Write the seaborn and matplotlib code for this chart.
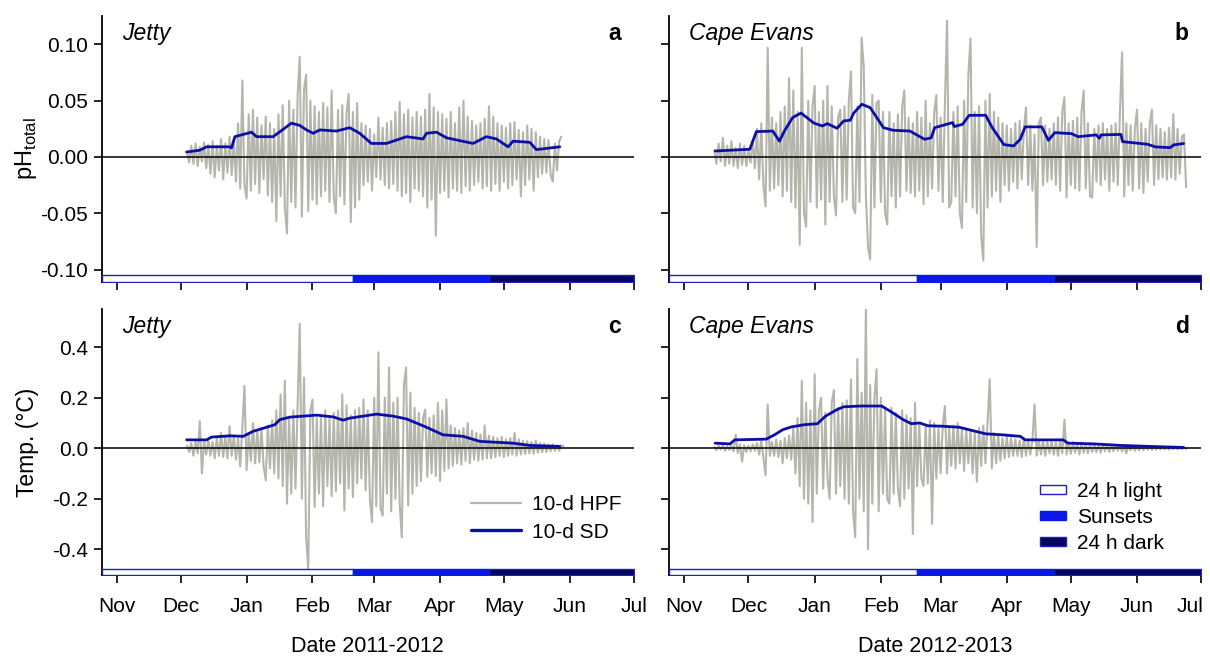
import pandas as pd
import matplotlib
matplotlib.use('Agg')
import matplotlib.pyplot as plt
import matplotlib.dates as mdates
from matplotlib.lines import Line2D
from matplotlib.patches import Patch
from matplotlib.transforms import ScaledTranslation
import seaborn as sns

# ---- season origins (day offsets below are counted from these) ----
origin_1112 = pd.Timestamp('2011-11-01')
origin_1213 = pd.Timestamp('2012-11-01')

# ---- pH, Jetty (panel a): 10-d high-pass filtered, one value per day from Dec 4 2011 ----
ph_jetty_start = '2011-12-04'
ph_jetty_hpf = [
    0.004, -0.005, 0.010, -0.006, 0.012, -0.008, 0.009, -0.004, 0.013, -0.010,
    0.011, -0.015, 0.014, -0.018, 0.010, -0.012, 0.016, -0.020, 0.012, -0.014,
    0.018, -0.016, 0.015, -0.022, 0.030, -0.028, 0.068, -0.025, -0.037, 0.038,
    -0.030, 0.042, -0.024, 0.035, -0.032, 0.028, -0.020, 0.036, -0.034, 0.030,
    -0.040, 0.025, -0.057, 0.038, -0.035, 0.046, -0.045, -0.068, 0.050, -0.040,
    0.042, -0.045, 0.055, 0.089, -0.053, 0.060, 0.073, -0.048, 0.050, -0.038,
    0.045, -0.042, 0.040, -0.035, 0.048, -0.030, 0.044, -0.040, 0.059, -0.036,
    -0.050, 0.042, -0.035, 0.046, -0.042, 0.038, 0.056, -0.058, 0.040, -0.045,
    0.048, -0.038, 0.030, -0.025, 0.028, -0.022, 0.025, -0.030, 0.020, -0.018,
    0.035, -0.020, 0.026, -0.025, 0.030, -0.028, 0.032, -0.024, 0.040, -0.030,
    0.049, -0.035, 0.038, -0.032, 0.042, -0.040, 0.035, -0.028, 0.040, -0.030,
    0.036, -0.035, 0.042, -0.045, 0.056, -0.038, 0.044, -0.070, 0.040, -0.032,
    0.038, -0.030, 0.034, -0.036, 0.040, -0.028, 0.030, -0.030, 0.044, -0.032,
    0.050, -0.026, 0.036, -0.030, 0.032, -0.025, 0.028, -0.022, 0.030, -0.028,
    0.034, -0.026, 0.045, -0.030, 0.036, -0.024, 0.030, -0.030, 0.028, -0.022,
    0.026, -0.028, 0.030, -0.025, 0.031, -0.020, 0.024, -0.035, 0.022, -0.025,
    0.028, -0.020, 0.025, -0.030, 0.022, -0.018, 0.018, -0.015, 0.016, -0.014,
    0.015, -0.016, -0.022, 0.012, -0.012, 0.014, 0.018,
]
ph_jetty_sd_day = [32.8, 39, 42.2, 53.1, 53.9, 55.5, 63.3, 65.7, 73.5, 82.1, 86, 89.2,
                   92.3, 95.4, 103.3, 109.5, 114.2, 119.7, 126.8, 136.2, 144, 145.6,
                   150.3, 155, 167.5, 173.8, 178.5, 184, 186.3, 194.2, 197.3, 208.3]
ph_jetty_sd = [0.0044, 0.006, 0.009, 0.009, 0.008, 0.018, 0.022, 0.018, 0.018, 0.030, 0.028, 0.024,
               0.021, 0.024, 0.023, 0.026, 0.021, 0.012, 0.012, 0.018, 0.016, 0.021,
               0.022, 0.017, 0.012, 0.018, 0.016, 0.009, 0.014, 0.013, 0.0065, 0.009]

# ---- pH, Cape Evans (panel b): one value per day from Nov 15 2012 ----
ph_cape_start = '2012-11-15'
ph_cape_hpf = [
    0.006, -0.006, 0.012, -0.004, 0.017, -0.008, 0.010, -0.006, 0.014, -0.008,
    0.008, -0.010, 0.012, -0.007, 0.010, -0.008, 0.006, -0.005, 0.015, -0.010,
    0.025, -0.020, 0.030, -0.025, -0.044, 0.097, -0.030, 0.035, -0.028, 0.030,
    -0.025, 0.040, -0.035, 0.045, -0.030, 0.070, -0.040, 0.059, -0.045, 0.040,
    -0.078, 0.097, -0.050, -0.062, 0.050, -0.040, 0.045, 0.063, -0.045, 0.040,
    -0.038, 0.050, -0.060, 0.063, -0.040, 0.045, -0.035, -0.052, 0.035, 0.042,
    -0.040, 0.045, -0.038, 0.050, 0.076, -0.045, -0.050, 0.045, -0.040, 0.106,
    0.080, -0.035, -0.080, -0.091, 0.055, -0.045, 0.048, 0.050, -0.040, 0.040,
    -0.050, -0.060, 0.040, -0.035, 0.030, -0.045, 0.038, -0.035, 0.045, 0.059,
    -0.030, 0.035, -0.032, 0.030, -0.035, 0.040, -0.030, 0.035, -0.042, 0.050,
    -0.035, 0.030, -0.028, 0.040, 0.055, -0.030, 0.035, -0.040, 0.045, 0.121,
    -0.045, -0.040, 0.040, -0.035, 0.045, -0.050, -0.063, 0.050, -0.040, 0.073,
    0.105, -0.045, 0.040, -0.050, 0.045, -0.070, -0.092, 0.050, -0.045, 0.056,
    -0.035, 0.040, -0.030, 0.035, -0.040, 0.030, -0.025, 0.028, -0.030, 0.025,
    -0.022, 0.030, -0.028, 0.032, -0.020, 0.025, 0.044, -0.025, 0.028, -0.030,
    0.020, -0.080, 0.030, 0.035, -0.025, 0.028, -0.022, 0.025, -0.020, 0.030,
    -0.025, 0.035, -0.030, 0.040, 0.053, -0.036, 0.030, -0.025, 0.032, -0.028,
    0.035, -0.030, 0.040, 0.059, -0.028, 0.030, -0.035, -0.036, 0.025, -0.022,
    0.028, -0.025, 0.030, -0.020, 0.025, -0.030, 0.028, -0.022, 0.030, -0.025,
    0.040, 0.093, -0.035, 0.030, -0.025, 0.028, -0.030, 0.025, 0.042, -0.028,
    0.030, -0.032, 0.025, -0.022, 0.030, 0.042, -0.025, 0.028, -0.020, 0.025,
    -0.018, 0.022, -0.020, 0.026, -0.018, 0.038, -0.020, 0.025, -0.015, 0.018,
    0.020, -0.027,
]
ph_cape_sd_day = [14.4, 30.6, 33.7, 41.4, 44.5, 46.8, 50.7, 54.6, 60.7, 64.6, 66.9, 71.5,
                  74.6, 77.7, 79.3, 83.1, 87, 90.1, 93.2, 97.8, 105.6, 112.5, 115.6, 117.2,
                  125.6, 126.4, 130.3, 133.4, 141.1, 144.2, 149.6, 154.2, 157.3, 159.6,
                  167.4, 170.5, 173.5, 181.3, 184.4, 192.9, 194.4, 195.2, 204.5, 205.2,
                  216.8, 220.7, 227.6, 229.2, 233.8]
ph_cape_sd = [0.0053, 0.0068, 0.0225, 0.023, 0.014, 0.023, 0.035, 0.039, 0.030, 0.0275, 0.0296, 0.0255,
              0.032, 0.0326, 0.039, 0.0468, 0.0438, 0.035, 0.026, 0.0237, 0.023, 0.0157, 0.017, 0.026,
              0.0305, 0.027, 0.029, 0.037, 0.037, 0.026, 0.011, 0.0098, 0.0157, 0.0267,
              0.0267, 0.0148, 0.0216, 0.0207, 0.018, 0.0196, 0.0166, 0.0196, 0.020, 0.0136,
              0.0113, 0.0089, 0.0083, 0.0107, 0.0119]

# ---- Temperature, Jetty (panel c): one value per day from Dec 4 2011 ----
t_jetty_start = '2011-12-04'
t_jetty_hpf = [
    0.010, -0.015, 0.020, -0.030, 0.025, -0.020, 0.107, -0.100, 0.030, -0.025,
    0.035, -0.030, 0.025, -0.040, 0.040, -0.030, 0.060, -0.035, 0.045, -0.040,
    0.087, -0.030, 0.050, -0.045, 0.040, -0.073, 0.080, 0.247, -0.087, 0.060,
    -0.050, 0.100, -0.060, 0.070, -0.055, 0.080, -0.070, -0.127, 0.090, -0.080,
    0.110, -0.100, 0.150, -0.120, 0.213, -0.150, 0.267, -0.220, 0.120, -0.180,
    0.150, -0.160, 0.167, 0.493, -0.200, 0.280, -0.353, -0.480, 0.150, 0.193,
    -0.233, 0.120, -0.180, 0.130, -0.230, 0.150, -0.150, 0.120, -0.190, 0.140,
    -0.170, 0.150, -0.140, 0.213, -0.247, 0.170, -0.160, 0.130, -0.193, 0.150,
    -0.140, 0.160, -0.120, 0.193, -0.167, 0.150, -0.200, -0.293, 0.200, -0.230,
    0.380, -0.240, -0.267, 0.200, -0.180, 0.320, -0.250, 0.180, -0.200, 0.200,
    -0.220, -0.353, 0.250, 0.320, -0.227, 0.220, -0.180, 0.160, -0.150, 0.140,
    -0.130, 0.120, 0.153, -0.113, 0.120, -0.100, 0.130, -0.110, 0.180, -0.130,
    0.150, -0.090, 0.193, -0.080, 0.090, -0.070, 0.080, -0.060, 0.070, -0.065,
    0.080, -0.050, 0.100, -0.060, 0.070, -0.045, 0.060, -0.050, 0.055, -0.045,
    0.090, -0.040, 0.050, -0.040, 0.045, -0.035, 0.040, -0.030, 0.045, -0.035,
    0.035, -0.030, 0.040, -0.025, 0.060, -0.030, 0.035, -0.025, 0.030, -0.022,
    0.028, -0.020, 0.025, -0.022, 0.030, -0.018, 0.020, -0.015, 0.018, -0.015,
    0.015, -0.012, 0.016, -0.010, 0.012, -0.010, 0.012, 0.008,
]
t_jetty_sd_day = [32.8, 42.2, 44.5, 53.1, 59.4, 64.1, 70.4, 74.3, 76.6, 81.3, 93.9, 101.7,
                  106.4, 109.5, 115.8, 122.1, 129.9, 136.2, 145.6, 153.4, 162.8, 170.7,
                  186.3, 194.2, 208.3]
t_jetty_sd = [0.033, 0.033, 0.044, 0.049, 0.047, 0.067, 0.083, 0.093, 0.113, 0.123, 0.131, 0.124,
              0.111, 0.119, 0.127, 0.135, 0.127, 0.116, 0.083, 0.053, 0.047, 0.027,
              0.020, 0.011, 0.007]

# ---- Temperature, Cape Evans (panel d): one value per day from Nov 15 2012 ----
t_cape_start = '2012-11-15'
t_cape_hpf = [
    0.005, -0.008, 0.010, -0.005, 0.012, -0.010, 0.008, -0.006, 0.010, -0.012,
    0.053, -0.020, 0.015, -0.053, 0.012, -0.015, 0.010, -0.012, 0.015, -0.010,
    0.020, -0.025, 0.030, -0.040, -0.107, 0.173, -0.030, 0.025, -0.030, 0.035,
    -0.035, 0.030, -0.060, 0.040, -0.040, 0.050, -0.045, 0.080, -0.100, 0.120,
    -0.150, 0.267, -0.200, 0.180, -0.220, 0.150, -0.293, 0.293, -0.180, 0.150,
    0.200, -0.160, 0.140, -0.120, -0.200, 0.180, 0.230, -0.180, 0.160, -0.150,
    0.180, -0.200, 0.190, -0.220, 0.273, -0.250, -0.353, 0.353, -0.200, 0.220,
    -0.250, 0.560, -0.400, 0.250, -0.220, 0.200, 0.313, -0.250, 0.200, -0.180,
    0.150, -0.200, -0.220, 0.160, -0.180, 0.140, -0.160, -0.230, 0.150, -0.200,
    0.130, -0.160, 0.120, -0.340, 0.180, -0.150, 0.100, -0.120, -0.150, 0.090,
    -0.140, 0.110, -0.300, 0.100, -0.120, 0.080, -0.100, 0.090, 0.167, -0.100,
    0.080, -0.070, 0.090, -0.080, 0.100, -0.060, 0.080, -0.090, 0.070, -0.060,
    0.070, -0.100, 0.060, -0.133, 0.080, -0.070, 0.090, -0.060, 0.100, 0.273,
    -0.080, 0.060, -0.060, 0.050, -0.050, 0.040, -0.040, 0.045, -0.035, 0.040,
    -0.030, 0.035, -0.030, 0.030, -0.035, 0.040, -0.030, 0.035, -0.025, 0.030,
    0.173, -0.030, 0.030, -0.025, 0.030, -0.030, 0.025, -0.020, 0.028, -0.025,
    0.025, -0.030, 0.030, -0.020, 0.113, -0.025, 0.020, -0.022, 0.025, -0.018,
    0.020, -0.025, 0.022, -0.018, 0.018, -0.020, 0.020, -0.015, 0.018, -0.016,
    0.015, -0.018, 0.016, -0.012, 0.014, -0.015, 0.012, -0.012, 0.014, -0.010,
    0.012, -0.012, 0.010, -0.020, 0.010, -0.008, 0.012, -0.010, 0.008, -0.009,
    0.010, -0.008, 0.008, -0.006, 0.009, -0.007, 0.006, -0.006, 0.007, -0.005,
    0.006, -0.005, 0.005, -0.006, 0.005, -0.004, 0.006, -0.005, 0.004, -0.004,
    0.005, -0.003,
]
t_cape_sd_day = [14.4, 21.3, 23.6, 38.3, 42.2, 46, 49.9, 56.1, 62.3, 66.1, 71.5, 74.6,
                 82.4, 92.4, 96.3, 102.5, 106.3, 110.2, 114, 121, 128.7, 133.4, 141.1,
                 148.8, 157.3, 159.6, 177.4, 179.7, 192.1, 204.5, 218.4, 233.8]
t_cape_sd = [0.020, 0.017, 0.033, 0.036, 0.053, 0.073, 0.084, 0.093, 0.097, 0.127, 0.153, 0.164,
             0.167, 0.167, 0.147, 0.113, 0.097, 0.100, 0.089, 0.087, 0.083, 0.073, 0.057,
             0.053, 0.047, 0.033, 0.033, 0.020, 0.017, 0.011, 0.007, 0.003]

# ---- light regime (24 h light -> sunsets -> 24 h dark) ----
light_1112 = ['2011-10-25', '2012-02-20', '2012-04-24', '2012-07-01']
light_1213 = ['2012-10-25', '2013-02-18', '2013-04-23', '2013-07-01']
light_labels = ['24 h light', 'Sunsets', '24 h dark']

ph_ticks = [-0.10, -0.05, 0.00, 0.05, 0.10]
t_ticks = [-0.4, -0.2, 0.0, 0.2, 0.4]

GREY = '#b5b6ab'
SD_BLUE = '#0b0fa8'
SUN_BLUE = '#0a18e8'
DARK = '#05055e'
EDGE = '#1c20c0'

sns.set_style('ticks')
plt.rcParams['font.family'] = ['Liberation Sans', 'DejaVu Sans']
plt.rcParams['mathtext.fontset'] = 'custom'
plt.rcParams['mathtext.rm'] = 'Liberation Sans'
plt.rcParams['axes.unicode_minus'] = False
plt.rcParams['text.color'] = 'black'
plt.rcParams['axes.labelcolor'] = 'black'


def draw_panel(ax, start, hpf, origin, sd_day, sd, light, bar_lo, bar_hi):
    dates = pd.date_range(start, periods=len(hpf), freq='D')
    sns.lineplot(x=dates, y=hpf, ax=ax, color=GREY, linewidth=1.5,
                 estimator=None, sort=False, zorder=1)
    ax.axhline(0, color='black', linewidth=1.1, zorder=2)
    sd_dates = origin + pd.to_timedelta(sd_day, unit='D')
    sns.lineplot(x=sd_dates, y=sd, ax=ax, color=SD_BLUE, linewidth=2.0,
                 estimator=None, sort=False, zorder=3)
    # light regime bar along the bottom
    edges = [mdates.date2num(pd.Timestamp(d)) for d in light]
    faces = ['white', SUN_BLUE, DARK]
    for i in range(3):
        ax.broken_barh([(edges[i], edges[i + 1] - edges[i])], (bar_lo, bar_hi - bar_lo),
                       facecolor=faces[i], edgecolor=EDGE if i != 1 else SUN_BLUE,
                       linewidth=1.0, zorder=4)
    ax.set_xlim(pd.Timestamp(light[0]), pd.Timestamp(light[-1]))
    ax.xaxis.set_major_locator(mdates.MonthLocator())
    ax.xaxis.set_major_formatter(mdates.DateFormatter('%b'))


fig, axes = plt.subplots(2, 2, figsize=(12.1, 6.56), dpi=100, sharey='row')
fig.subplots_adjust(left=0.0843, right=0.9926, top=0.9756, bottom=0.1235,
                    wspace=0.0676, hspace=0.104)

draw_panel(axes[0, 0], ph_jetty_start, ph_jetty_hpf, origin_1112, ph_jetty_sd_day, ph_jetty_sd,
           light_1112, -0.1108, -0.1049)
draw_panel(axes[0, 1], ph_cape_start, ph_cape_hpf, origin_1213, ph_cape_sd_day, ph_cape_sd,
           light_1213, -0.1108, -0.1049)
draw_panel(axes[1, 0], t_jetty_start, t_jetty_hpf, origin_1112, t_jetty_sd_day, t_jetty_sd,
           light_1112, -0.502, -0.478)
draw_panel(axes[1, 1], t_cape_start, t_cape_hpf, origin_1213, t_cape_sd_day, t_cape_sd,
           light_1213, -0.502, -0.478)

for ax in axes[0]:
    ax.set_ylim(-0.1108, 0.1252)
    ax.set_yticks(ph_ticks)
    ax.set_xticklabels([])
for ax in axes[1]:
    ax.set_ylim(-0.502, 0.55)
    ax.set_yticks(t_ticks)
axes[0, 0].set_yticklabels([f'{v:.2f}' for v in ph_ticks])
axes[1, 0].set_yticklabels([f'{v:.1f}' for v in t_ticks])

for ax in axes.flat:
    ax.set_xlabel('')
    ax.set_ylabel('')
    sns.despine(ax=ax)
    for s in ['left', 'bottom']:
        ax.spines[s].set_linewidth(1.3)
        ax.spines[s].set_color('black')
    ax.tick_params(direction='out', length=6, width=1.2, labelsize=15, pad=4,
                   colors='black', labelcolor='black')
    ax.tick_params(axis='x', pad=10)
    ax.tick_params(axis='y', labelleft=ax in axes[:, 0])

axes[0, 0].set_ylabel(r'pH$_{\mathregular{total}}$', fontsize=17)
axes[1, 0].set_ylabel('Temp. (°C)', fontsize=16.5)
for ax in axes[:, 0]:
    ax.yaxis.set_label_coords(-0.118, 0.5)
axes[1, 0].set_xlabel('Date 2011-2012', fontsize=15.5, labelpad=14)
axes[1, 1].set_xlabel('Date 2012-2013', fontsize=15.5, labelpad=14)

# keep the last month label of the right-hand panel inside the figure
fig.canvas.draw()
last_lab = axes[1, 1].get_xticklabels()[-1]
last_lab.set_transform(last_lab.get_transform() + ScaledTranslation(-8 / 72, 0, fig.dpi_scale_trans))

sites = ['Jetty', 'Cape Evans', 'Jetty', 'Cape Evans']
letters = ['a', 'b', 'c', 'd']
for ax, site, letter in zip([axes[0, 0], axes[0, 1], axes[1, 0], axes[1, 1]], sites, letters):
    ax.text(0.037, 0.936, site, transform=ax.transAxes, ha='left', va='center',
            fontsize=16.5, fontstyle='italic')
    ax.text(0.977, 0.936, letter, transform=ax.transAxes, ha='right', va='center',
            fontsize=16.5, fontweight='bold')

line_handles = [Line2D([], [], color=GREY, linewidth=1.6),
                Line2D([], [], color=SD_BLUE, linewidth=2.4)]
axes[1, 0].legend(line_handles, ['10-d HPF', '10-d SD'], loc='upper left',
                  bbox_to_anchor=(0.694, 0.30), frameon=False, fontsize=15,
                  handlelength=2.4, handletextpad=0.55, labelspacing=0.4,
                  borderaxespad=0, borderpad=0)

patch_handles = [Patch(facecolor='white', edgecolor=EDGE, linewidth=1.0),
                 Patch(facecolor=SUN_BLUE, edgecolor=SUN_BLUE, linewidth=1.0),
                 Patch(facecolor=DARK, edgecolor=EDGE, linewidth=1.0)]
axes[1, 1].legend(patch_handles, light_labels, loc='upper left',
                  bbox_to_anchor=(0.697, 0.35), frameon=False, fontsize=15,
                  handlelength=1.25, handleheight=0.3, handletextpad=0.55,
                  labelspacing=0.34, borderaxespad=0, borderpad=0)

fig.savefig('out.png', dpi=100)
